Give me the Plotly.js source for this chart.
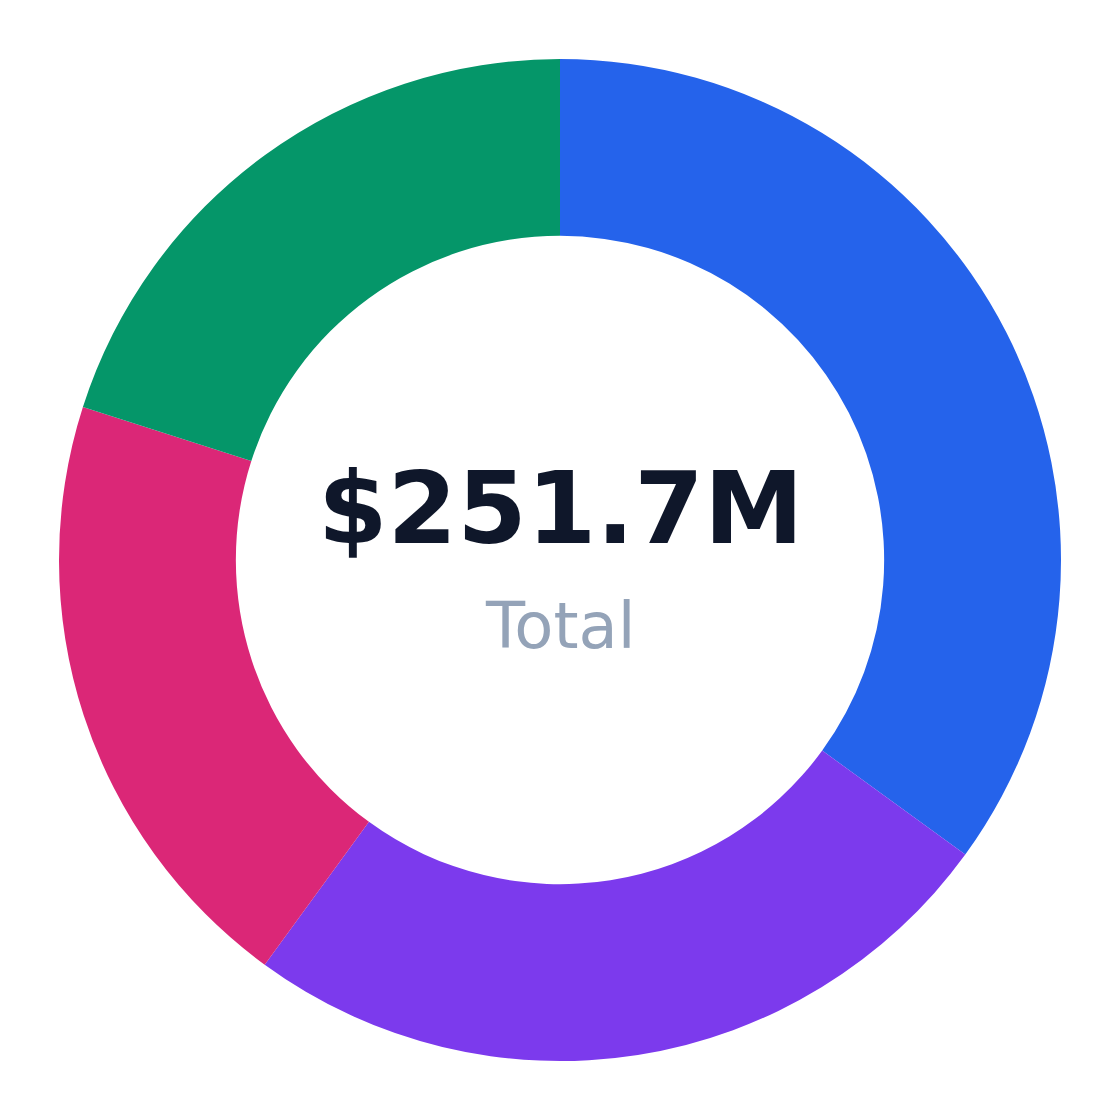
<!DOCTYPE html>
<html>
<head>
<meta charset="utf-8">
<script src="https://cdn.plot.ly/plotly-3.0.1.min.js"></script>
<style>
  html, body { margin: 0; padding: 0; background: #fff; }
  #chart { width: 1120px; height: 1120px; }
</style>
</head>
<body>
<div id="chart"></div>
<script>
// data ($M)
var labels = ['Segment A', 'Segment B', 'Segment C', 'Segment D']
var values = [88.1, 63.0, 50.1, 50.5]
var colors = ['#2563eb', '#7c3aed', '#db2777', '#059669']
var totalText = '$251.7M'
var subText = 'Total'

var data = [
    {
        type: 'pie',
        labels: labels,
        values: values,
        hole: 0.647,
        sort: false,
        direction: 'clockwise',
        rotation: 0,
        textinfo: 'none',
        hoverinfo: 'label+value+percent',
        marker: { colors: colors, line: { width: 0 } },
        showlegend: false
    }
]

var layout = {
    width: 1120,
    height: 1120,
    margin: { l: 59, r: 59, t: 59, b: 59 },
    paper_bgcolor: '#ffffff',
    font: { family: 'DejaVu Sans, sans-serif' },
    annotations: [
        {
            text: '<b>' + totalText + '</b>',
            x: 0.5, y: 0.551,
            xref: 'paper', yref: 'paper',
            xanchor: 'center', yanchor: 'middle',
            showarrow: false,
            font: { size: 100, color: '#0f172a' }
        },
        {
            text: subText,
            x: 0.5, y: 0.434,
            xref: 'paper', yref: 'paper',
            xanchor: 'center', yanchor: 'middle',
            showarrow: false,
            font: { size: 64, color: '#94a3b8' }
        }
    ]
}

Plotly.newPlot('chart', data, layout, { displayModeBar: false, staticPlot: true })
</script>
</body>
</html>
